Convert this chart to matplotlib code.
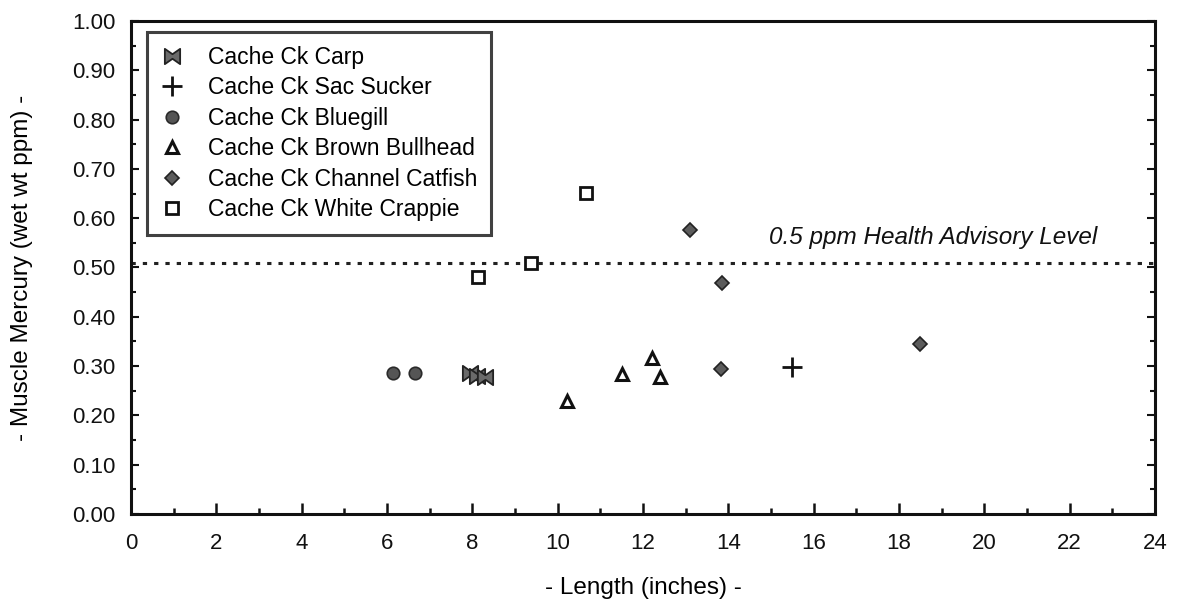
import matplotlib
matplotlib.use("Agg")
import matplotlib.pyplot as plt
from matplotlib.path import Path
from matplotlib.ticker import MultipleLocator, FormatStrFormatter

plt.rcParams['font.family'] = ['Liberation Sans', 'DejaVu Sans']

# ---- data (length in inches, mercury in wet wt ppm) ----
carp_len = [7.95, 8.12, 8.3]
carp_hg = [0.285, 0.28, 0.278]

sucker_len = [15.5]
sucker_hg = [0.298]

bluegill_len = [6.15, 6.65]
bluegill_hg = [0.285, 0.285]

bullhead_len = [10.22, 11.5, 12.2, 12.4]
bullhead_hg = [0.229, 0.284, 0.316, 0.278]

catfish_len = [13.1, 13.85, 13.83, 18.5]
catfish_hg = [0.576, 0.469, 0.294, 0.345]

crappie_len = [8.13, 9.37, 10.66]
crappie_hg = [0.481, 0.509, 0.651]

health_level = 0.51
health_label = "0.5 ppm Health Advisory Level"

labels = ["Cache Ck Carp", "Cache Ck Sac Sucker", "Cache Ck Bluegill",
          "Cache Ck Brown Bullhead", "Cache Ck Channel Catfish",
          "Cache Ck White Crappie"]

# ---- figure ----
fig = plt.figure(figsize=(11.77, 6.01), dpi=100)
ax = fig.add_axes([131/1177, 1 - 514/601, 1024/1177, 493/601])

bowtie = Path([(-1, 1), (0, 0.3), (1, 1), (1, -1), (0, -0.3), (-1, -1), (-1, 1)],
              [Path.MOVETO] + [Path.LINETO] * 5 + [Path.CLOSEPOLY])

ax.plot(carp_len, carp_hg, linestyle='none', marker=bowtie, markersize=11,
        markerfacecolor='#6a6a6a', markeredgecolor='#222222', markeredgewidth=1.3,
        label=labels[0], zorder=3)
ax.plot(sucker_len, sucker_hg, linestyle='none', marker='+', markersize=14,
        markeredgecolor='#111111', markeredgewidth=2.0, label=labels[1], zorder=3)
ax.plot(bluegill_len, bluegill_hg, linestyle='none', marker='o', markersize=9,
        markerfacecolor='#555555', markeredgecolor='#2a2a2a', markeredgewidth=1.2,
        label=labels[2], zorder=3)
ax.plot(bullhead_len, bullhead_hg, linestyle='none', marker='^', markersize=8.5,
        markerfacecolor='white', markeredgecolor='#111111', markeredgewidth=2.2,
        label=labels[3], zorder=3)
ax.plot(catfish_len, catfish_hg, linestyle='none', marker='D', markersize=7,
        markerfacecolor='#5c5c5c', markeredgecolor='#222222', markeredgewidth=1.2,
        label=labels[4], zorder=3)
ax.plot(crappie_len, crappie_hg, linestyle='none', marker='s', markersize=9,
        markerfacecolor='white', markeredgecolor='#111111', markeredgewidth=2.0,
        label=labels[5], zorder=3)

ax.axhline(health_level, color='#222222', linewidth=2.2, linestyle=(0, (1.4, 2.3)), zorder=2)
ax.text(14.95, health_level + 0.038, health_label, fontsize=17.5, style='italic',
        ha='left', va='baseline', color='#111111')

ax.set_xlim(0, 24)
ax.set_ylim(0, 1.0)
ax.xaxis.set_major_locator(MultipleLocator(2))
ax.xaxis.set_minor_locator(MultipleLocator(1))
ax.yaxis.set_major_locator(MultipleLocator(0.1))
ax.yaxis.set_minor_locator(MultipleLocator(0.05))
ax.yaxis.set_major_formatter(FormatStrFormatter('%.2f'))

ax.tick_params(axis='both', which='both', direction='in', colors='#111111', labelsize=16)
ax.tick_params(axis='x', which='major', length=8, width=1.8, pad=14, top=False)
ax.tick_params(axis='x', which='minor', length=4.5, width=1.8, top=False)
ax.tick_params(axis='y', which='major', length=6, width=1.5, pad=11, right=True)
ax.tick_params(axis='y', which='minor', length=3.5, width=1.5, right=True)

for s in ax.spines.values():
    s.set_linewidth(2.2)
    s.set_color('#111111')

ax.set_xlabel("- Length (inches) -", fontsize=17.5, labelpad=16)
ax.set_ylabel("- Muscle Mercury (wet wt ppm) -", fontsize=17.5, labelpad=28)

leg = ax.legend(loc='upper left', bbox_to_anchor=(0.0156, 0.978), fontsize=16.5,
                frameon=True, fancybox=False, borderpad=0.6, labelspacing=0.33,
                handlelength=1.0, handletextpad=1.05, borderaxespad=0.0,
                numpoints=1)
leg.get_frame().set_edgecolor('#111111')
leg.get_frame().set_linewidth(2.2)

fig.savefig("out.png", dpi=100)
